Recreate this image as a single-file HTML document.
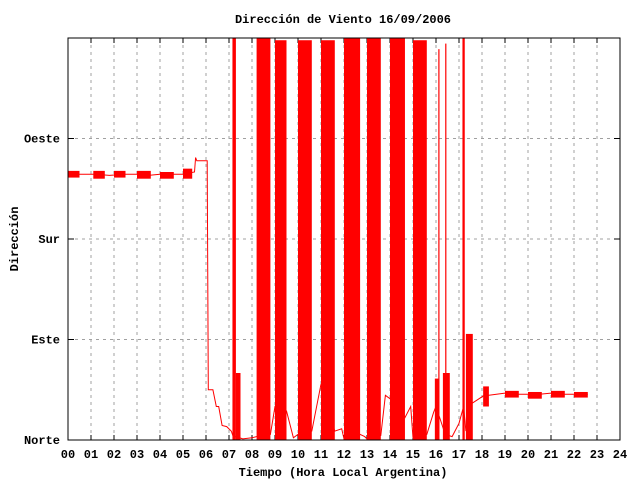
<!DOCTYPE html>
<html><head><meta charset="utf-8">
<style>
body{margin:0;background:#fff}
svg text{font-family:"Liberation Mono",monospace;font-size:12px;font-weight:bold;fill:#000}
</style></head><body>
<svg id="chart" width="640" height="480" viewBox="0 0 640 480" xmlns="http://www.w3.org/2000/svg">
<rect width="640" height="480" fill="#fff"/>
<text x="343" y="23" text-anchor="middle">Dirección de Viento 16/09/2006</text>
<text x="343" y="476" text-anchor="middle">Tiempo (Hora Local Argentina)</text>
<text transform="translate(18,239) rotate(-90)" text-anchor="middle">Dirección</text>
<g id="grid"></g>
<g id="ticks"></g>
<g id="series"></g>
<rect x="68" y="38" width="552" height="402" fill="none" stroke="#000" stroke-width="1"/>
</svg>
<script>
const xTicks=["00","01","02","03","04","05","06","07","08","09","10","11","12","13","14","15","16","17","18","19","20","21","22","23","24"];
const yTickVals=[0,90,180,270];
const yTickLabels=["Norte","Este","Sur","Oeste"];
// connecting trace: time (h), direction (deg)
const traceT=[0,0.5,1.2,1.8,2.5,3.0,3.5,4.0,4.5,5.0,5.5,5.55,5.6,5.9,6.05,6.1,6.3,6.45,6.55,6.7,6.9,7.1,7.2,7.3,7.6,8.0,8.2,8.8,9.0,9.5,9.8,10.0,10.6,11.0,11.6,11.9,12.0,12.7,12.9,13.0,13.6,13.8,14.0,14.65,14.9,15.0,15.6,15.9,16.0,16.4,16.7,17.0,17.2,17.3,17.5,17.8,18.1,18.3,19.0,19.5,20.0,20.5,21.0,21.5,22.0,22.6];
const traceD=[238,238,238,237,238,238,237,238,238,238,240,253,250,250,250,45,45,30,30,13,12,8,2,3,1,2,3,5,30,26,2,5,8,50,8,10,1,5,3,1,4,40,37,20,30,2,5,25,30,5,3,15,30,8,32,36,40,40,42,41,41,41,42,41,41,41];
// dense oscillation bursts: start (h), end (h), max deg, min deg
const burstStart=[0.0,1.1,2.0,3.0,4.0,5.0,7.15,7.3,8.2,9.0,10.0,11.0,12.0,13.0,14.0,15.0,15.95,16.1,16.3,16.4,17.15,17.3,18.05,19.0,20.0,21.0,22.0];
const burstEnd=[0.5,1.6,2.5,3.6,4.6,5.4,7.3,7.5,8.8,9.5,10.6,11.6,12.7,13.6,14.65,15.6,16.15,16.14,16.6,16.44,17.25,17.6,18.3,19.6,20.6,21.6,22.6];
const burstMax=[241,241,241,241,240,243,360,60,360,358,358,358,360,360,360,358,55,350,60,355,360,95,48,44,43,44,43];
const burstMin=[235,234,235,234,234,234,0,0,0,0,0,0,0,0,0,0,0,0,0,0,0,0,30,38,37,38,38];

const NS="http://www.w3.org/2000/svg";
const X0=68,X1=620,Y0=440,Y1=38;
const xs=h=>X0+h*(X1-X0)/24;
const ys=d=>Y0-d*(Y0-Y1)/360;
function mk(tag,attrs,parent){const e=document.createElementNS(NS,tag);for(const k in attrs)e.setAttribute(k,attrs[k]);parent.appendChild(e);return e;}
const grid=document.getElementById('grid'),ticks=document.getElementById('ticks'),ser=document.getElementById('series');
xTicks.forEach((lab,i)=>{
  const x=xs(i);
  if(i>0&&i<24){const g=mk('line',{x1:x,x2:x,y1:Y1,y2:Y0,stroke:'#a0a0a0','stroke-dasharray':'3,4'},grid);
  
  }
  const t=mk('line',{x1:x,x2:x,y1:Y0,y2:Y0-5,stroke:'#000'},ticks);
  
  
  const t2=mk('line',{x1:x,x2:x,y1:Y1,y2:Y1+5,stroke:'#000'},ticks);
  
  
  const tx=mk('text',{x:x,y:458,'text-anchor':'middle'},ticks);tx.textContent=lab;
  
  
});
yTickVals.forEach((v,i)=>{
  const y=ys(v);
  if(v>0){const g=mk('line',{x1:X0,x2:X1,y1:y,y2:y,stroke:'#a0a0a0','stroke-dasharray':'3,4'},grid);
  
  }
  const t=mk('line',{x1:X0,x2:X0+6,y1:y,y2:y,stroke:'#000'},ticks);
  
  
  const t2=mk('line',{x1:X1,x2:X1-6,y1:y,y2:y,stroke:'#000'},ticks);
  
  
  const tx=mk('text',{x:X0-8,y:y+4,'text-anchor':'end'},ticks);tx.textContent=yTickLabels[i];
  
  
});
const pts=traceT.map((t,i)=>xs(t).toFixed(1)+','+ys(traceD[i]).toFixed(1)).join(' ');
const pl=mk('polyline',{points:pts,fill:'none',stroke:'#f00','stroke-width':1},ser);


burstStart.forEach((s,i)=>{
  const x=xs(s),w=Math.max(1.2,xs(burstEnd[i])-x);
  const r=mk('rect',{x:x,y:ys(burstMax[i]),width:w,height:Math.max(1,ys(burstMin[i])-ys(burstMax[i])),fill:'#f00'},ser);
  
  
});
</script>
</body></html>
